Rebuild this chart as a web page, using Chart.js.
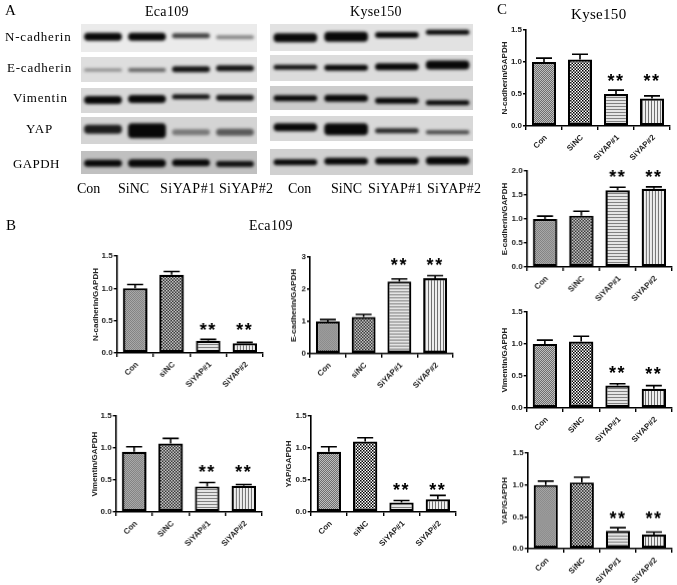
<!DOCTYPE html>
<html>
<head>
<meta charset="utf-8">
<title>Eca109 / Kyse150</title>
<script src="https://cdn.jsdelivr.net/npm/chart.js@4"></script>
<style>
  html, body { margin: 0; padding: 0; background: #fff; }
  body { position: relative; width: 677px; height: 585px; overflow: hidden; }
  canvas { position: absolute; filter: blur(0.4px); }
  .t { position: absolute; font-family: 'Liberation Serif', serif; color: #000; white-space: nowrap; line-height: 1; transform: translateY(-50%); filter: blur(0.25px); }
</style>
</head>
<body>
<script>
// blot lanes
const lanes = ['Con', 'SiNC', 'SiYAP#1', 'SiYAP#2'];

// band centre inside each strip, band thickness, band darkness (one row per protein)
const ecaCentre = [[12.7, 12.7, 11.7, 13.3], [13, 13, 12.3, 11.3], [12, 11, 8.7, 9.7], [12.3, 13.7, 15.3, 15.3], [12.3, 12.3, 11.7, 13]];
const ecaThick = [[8, 8, 5, 4], [3, 4, 6, 6], [8, 8, 5, 6], [9, 15, 6, 7], [7, 8, 7, 6]];
const ecaDark = [[1, 1, 0.75, 0.45], [0.4, 0.55, 0.95, 0.95], [1, 1, 0.95, 0.95], [0.9, 1, 0.45, 0.6], [1, 1, 1, 0.95]];
const kyseCentre = [[13.7, 12.7, 11, 8.3], [12.3, 12.7, 11.7, 10], [12.3, 12.3, 14.7, 16.7], [11.3, 13.3, 14.7, 16.3], [13.3, 12.3, 12, 11.7]];
const kyseThick = [[9, 10, 6, 5], [5, 6, 7, 9], [6, 7, 6, 5], [8, 12, 5, 4], [6, 7, 7, 8]];
const kyseDark = [[1, 1, 1, 1], [0.95, 1, 1, 1], [1, 1, 1, 1], [1, 1, 0.85, 0.7], [1, 1, 1, 1]];
const ecaTone = ['#ebebeb', '#dedede', '#d8d8d8', '#d4d4d4', '#c0c0c0'];
const kyseTone = ['#e2e2e2', '#dcdcdc', '#cccccc', '#d8d8d8', '#d0d0d0'];

// bar panels
const groupsB1 = ['Con', 'siNC', 'SiYAP#1', 'SiYAP#2'];
const groupsB3 = ['Con', 'SiNC', 'SiYAP#1', 'SiYAP#2'];

const b1Values = [1.0, 1.21, 0.19, 0.15];
const b1Tops = [1.06, 1.26, 0.21, 0.165];
const b2Values = [1.0, 1.14, 2.24, 2.34];
const b2Tops = [1.06, 1.22, 2.32, 2.42];
const b3Values = [0.94, 1.07, 0.4, 0.41];
const b3Tops = [1.02, 1.15, 0.46, 0.43];
const b4Values = [0.94, 1.1, 0.15, 0.2];
const b4Tops = [1.02, 1.16, 0.18, 0.26];
const c1Values = [1.0, 1.04, 0.5, 0.43];
const c1Tops = [1.06, 1.12, 0.56, 0.47];
const c2Values = [1.0, 1.07, 1.6, 1.63];
const c2Tops = [1.06, 1.16, 1.66, 1.67];
const c3Values = [1.0, 1.04, 0.35, 0.3];
const c3Tops = [1.06, 1.12, 0.38, 0.35];
const c4Values = [1.0, 1.04, 0.28, 0.22];
const c4Tops = [1.06, 1.12, 0.33, 0.26];

// where the ** sit, in axis units
const b1Stars = [null, null, 0.385, 0.385];
const b2Stars = [null, null, 2.82, 2.82];
const b3Stars = [null, null, 0.65, 0.65];
const b4Stars = [null, null, 0.37, 0.37];
const c1Stars = [null, null, 0.74, 0.74];
const c2Stars = [null, null, 1.91, 1.91];
const c3Stars = [null, null, 0.57, 0.56];
const c4Stars = [null, null, 0.505, 0.51];

function addText(text, x, y, size, spacing) {
  const d = document.createElement('div');
  d.className = 't';
  d.textContent = text;
  d.style.left = x + 'px';
  d.style.top = y + 'px';
  d.style.fontSize = size + 'px';
  if (spacing) d.style.letterSpacing = spacing + 'px';
  document.body.appendChild(d);
}

function addCanvas(x, y, w, h) {
  const c = document.createElement('canvas');
  c.width = w;
  c.height = h;
  c.style.left = x + 'px';
  c.style.top = y + 'px';
  c.style.width = w + 'px';
  c.style.height = h + 'px';
  document.body.appendChild(c);
  return c;
}

function makePattern(size, scale, paint) {
  const tile = document.createElement('canvas');
  tile.width = size;
  tile.height = size;
  paint(tile.getContext('2d'));
  const p = document.createElement('canvas').getContext('2d').createPattern(tile, 'repeat');
  p.setTransform(new DOMMatrix().scale(scale));
  return p;
}

function checker(cell, dark, light) {
  return makePattern(cell * 2, 1, g => {
    g.fillStyle = light;
    g.fillRect(0, 0, cell * 2, cell * 2);
    g.fillStyle = dark;
    g.fillRect(0, 0, cell, cell);
    g.fillRect(cell, cell, cell, cell);
  });
}

const fineFill = checker(1, '#6e6e6e', '#bebebe');
const coarseFill = makePattern(4, 0.75, g => {
  g.fillStyle = '#fff';
  g.fillRect(0, 0, 4, 4);
  g.fillStyle = '#000';
  g.fillRect(0, 0, 2, 2);
  g.fillRect(2, 2, 2, 2);
});
const rowFill = makePattern(3, 1, g => {
  g.fillStyle = '#e4e4e4';
  g.fillRect(0, 0, 3, 3);
  g.fillStyle = '#808080';
  g.fillRect(0, 0, 3, 1);
});
const colFill = makePattern(3, 1, g => {
  g.fillStyle = '#eeeeee';
  g.fillRect(0, 0, 3, 3);
  g.fillStyle = '#707070';
  g.fillRect(0, 0, 1, 3);
});

// up-only error bars
const errorBars = {
  id: 'errorBars',
  afterDatasetsDraw(chart, args, opts) {
    const ctx = chart.ctx;
    const y = chart.scales.y;
    ctx.save();
    ctx.strokeStyle = '#000';
    ctx.lineWidth = 1.6;
    chart.getDatasetMeta(0).data.forEach((bar, i) => {
      const top = y.getPixelForValue(opts.tops[i]);
      ctx.beginPath();
      ctx.moveTo(bar.x, bar.y);
      ctx.lineTo(bar.x, top);
      ctx.moveTo(bar.x - 8, top);
      ctx.lineTo(bar.x + 8, top);
      ctx.stroke();
    });
    ctx.restore();
  }
};

const starMarks = {
  id: 'starMarks',
  afterDatasetsDraw(chart, args, opts) {
    const ctx = chart.ctx;
    const y = chart.scales.y;
    ctx.save();
    ctx.fillStyle = '#000';
    ctx.font = 'bold 18px "Liberation Sans"';
    ctx.letterSpacing = '1.5px';
    ctx.textAlign = 'center';
    ctx.textBaseline = 'middle';
    chart.getDatasetMeta(0).data.forEach((bar, i) => {
      if (opts.levels[i] === null) return;
      ctx.fillText('**', bar.x, y.getPixelForValue(opts.levels[i]) + 3);
    });
    ctx.restore();
  }
};

const stripBack = {
  id: 'stripBack',
  beforeDatasetsDraw(chart, args, opts) {
    const ctx = chart.ctx;
    ctx.save();
    ctx.fillStyle = opts.tone;
    ctx.fillRect(0, 0, chart.width, chart.height);
    ctx.filter = 'blur(1.5px)';
  },
  afterDatasetsDraw(chart) {
    chart.ctx.restore();
  }
};

function drawStrip(x, y, w, h, centre, thick, dark, tone) {
  new Chart(addCanvas(x, y, w, h), {
    type: 'bar',
    data: {
      labels: lanes,
      datasets: [{
        data: centre.map((c, i) => [c - thick[i] / 2, c + thick[i] / 2]),
        backgroundColor: dark.map(d => `rgba(8, 8, 8, ${d})`),
        borderWidth: 0,
        borderSkipped: false,
        borderRadius: 4,
        barPercentage: 0.86,
        categoryPercentage: 1
      }]
    },
    options: {
      responsive: false,
      animation: false,
      devicePixelRatio: 1,
      layout: { padding: 0 },
      plugins: { legend: { display: false }, tooltip: { enabled: false }, stripBack: { tone: tone } },
      scales: {
        x: { display: false },
        y: { display: false, reverse: true, min: 0, max: h }
      }
    },
    plugins: [stripBack]
  });
}

const ecaTops = [24, 57, 88, 117, 151];
const ecaHeights = [28, 25, 25, 27, 23];
const kyseTops = [24, 55, 86, 116, 149];
const kyseHeights = [27, 26, 24, 25, 26];

ecaTops.forEach((t, i) => drawStrip(81, t, 176, ecaHeights[i], ecaCentre[i], ecaThick[i], ecaDark[i], ecaTone[i]));
kyseTops.forEach((t, i) => drawStrip(270, t, 203, kyseHeights[i], kyseCentre[i], kyseThick[i], kyseDark[i], kyseTone[i]));

function drawPanel(p) {
  const boxLeft = p.titleX - 4;
  const boxTop = p.yTop - 8;
  const under = 56;
  const tickStyle = { family: 'Liberation Sans', weight: 'bold', size: 8 };
  new Chart(addCanvas(boxLeft, boxTop, p.xEnd - boxLeft + 1, p.y0 - boxTop + under), {
    type: 'bar',
    data: {
      labels: p.groups,
      datasets: [{
        data: p.values,
        backgroundColor: [fineFill, coarseFill, rowFill, colFill],
        borderColor: '#000',
        borderWidth: 2.2,
        borderSkipped: false,
        barPercentage: 0.67,
        categoryPercentage: 1
      }]
    },
    options: {
      responsive: false,
      animation: false,
      devicePixelRatio: 1,
      layout: { padding: { top: 8, right: 1, left: 0, bottom: 0 } },
      plugins: {
        legend: { display: false },
        tooltip: { enabled: false },
        errorBars: { tops: p.tops },
        starMarks: { levels: p.stars }
      },
      scales: {
        x: {
          afterFit: s => { s.height = under; },
          border: { color: '#000', width: 1.6 },
          grid: { drawOnChartArea: false, color: '#000', lineWidth: 1.4, tickLength: 4 },
          ticks: { color: '#222', font: tickStyle, maxRotation: 45, minRotation: 45, padding: 3, labelOffset: 2, autoSkip: false }
        },
        y: {
          min: 0,
          max: p.max,
          afterFit: s => { s.width = p.x0 - boxLeft; },
          border: { color: '#000', width: 1.6 },
          grid: { drawOnChartArea: false, color: '#000', lineWidth: 1.4, tickLength: 3 },
          title: { display: true, text: p.title, color: '#222', font: { family: 'Liberation Sans', weight: 'bold', size: 8, lineHeight: 1 }, padding: 0 },
          ticks: {
            color: '#222',
            font: tickStyle,
            padding: 1,
            stepSize: p.step,
            callback: v => (p.step === 1 ? String(v) : v.toFixed(1))
          }
        }
      }
    },
    plugins: [errorBars, starMarks]
  });
}

drawPanel({ title: 'N-cadherin/GAPDH', groups: groupsB1, values: b1Values, tops: b1Tops, stars: b1Stars, max: 1.5, step: 0.5, x0: 116.7, y0: 353, yTop: 255.7, xEnd: 262.7, titleX: 96 });
drawPanel({ title: 'E-cadherin/GAPDH', groups: groupsB1, values: b2Values, tops: b2Tops, stars: b2Stars, max: 3, step: 1, x0: 310, y0: 354, yTop: 257.3, xEnd: 453.3, titleX: 294 });
drawPanel({ title: 'Vimentin/GAPDH', groups: groupsB3, values: b3Values, tops: b3Tops, stars: b3Stars, max: 1.5, step: 0.5, x0: 115.7, y0: 512, yTop: 415.7, xEnd: 261.7, titleX: 95 });
drawPanel({ title: 'YAP/GAPDH', groups: groupsB1, values: b4Values, tops: b4Tops, stars: b4Stars, max: 1.5, step: 0.5, x0: 310.7, y0: 511.7, yTop: 415.7, xEnd: 456, titleX: 289 });
drawPanel({ title: 'N-cadherin/GAPDH', groups: groupsB3, values: c1Values, tops: c1Tops, stars: c1Stars, max: 1.5, step: 0.5, x0: 526, y0: 126, yTop: 30, xEnd: 670, titleX: 505 });
drawPanel({ title: 'E-cadherin/GAPDH', groups: groupsB3, values: c2Values, tops: c2Tops, stars: c2Stars, max: 2, step: 0.5, x0: 526.7, y0: 266.7, yTop: 170.7, xEnd: 671.7, titleX: 505 });
drawPanel({ title: 'Vimentin/GAPDH', groups: groupsB3, values: c3Values, tops: c3Tops, stars: c3Stars, max: 1.5, step: 0.5, x0: 526.7, y0: 408.3, yTop: 311.7, xEnd: 672, titleX: 505 });
drawPanel({ title: 'YAP/GAPDH', groups: groupsB3, values: c4Values, tops: c4Tops, stars: c4Stars, max: 1.5, step: 0.5, x0: 527.7, y0: 549.3, yTop: 453.3, xEnd: 672, titleX: 505 });

// figure text
addText('A', 5, 10, 15);
addText('B', 6, 225, 15);
addText('C', 497, 9, 15);
addText('Eca109', 145, 12, 14, 0.3);
addText('Kyse150', 350, 12, 14, 0.3);
addText('Eca109', 249, 226, 14, 0.3);
addText('Kyse150', 571, 14, 15, 0.3);
addText('N-cadherin', 5, 36, 13, 0.8);
addText('E-cadherin', 7, 67, 13, 0.8);
addText('Vimentin', 13, 97, 13, 0.8);
addText('YAP', 26, 128, 13, 0.8);
addText('GAPDH', 13, 163, 13, 0.4);
addText('Con', 77, 189, 14);
addText('SiNC', 118, 189, 14);
addText('SiYAP#1', 160, 189, 14, 0.5);
addText('SiYAP#2', 219, 189, 14, 0.3);
addText('Con', 288, 189, 14);
addText('SiNC', 331, 189, 14);
addText('SiYAP#1', 368, 189, 14, 0.4);
addText('SiYAP#2', 427, 189, 14, 0.3);
</script>
</body>
</html>
